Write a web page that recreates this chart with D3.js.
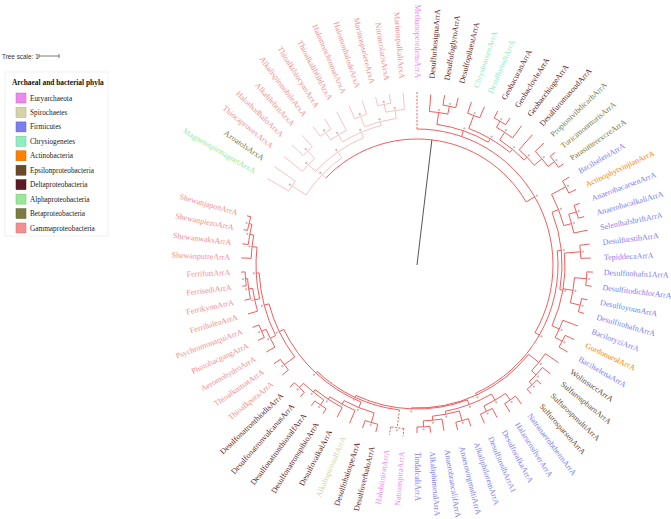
<!DOCTYPE html>
<html><head><meta charset="utf-8">
<script src="https://cdn.jsdelivr.net/npm/d3@7"></script>
<style>body{margin:0;background:#fff}svg{display:block}</style>
</head><body><svg id="c" width="671" height="519"></svg>
<script>
// ---- data ----
const leafNames = ["MethanoperedensArrA","DesulfurhosignaArrA","DesulfofuglyroArrA","DesulfopilaestArrA","ChrysinarsenArrA","DesulfurindiArrA","GeobacuranArrA","GeobaclovleArrA","GeobacchiogeArrA","DesulfuromusoudArrA","PropionivibdicarbArrA","TuricimonmurisArrA","ParasutterexcreArrA","BacilseleniArrA","ActinophytxinjianArrA","AnaerobacarsenArrA","AnaerobacalkaliArrA","SelenihalshriftArrA","DesulfurstibArrA","TepiddecaArrA","Desulfitohafn1ArrA","DesulfitodichlorArrA","DesulfoyounArrA","DesulfitohafnArrA","BaciloryziArrA","GordonurolArrA","BacilselenaArrA","WolinsuccArrA","SulfurospbarnArrA","SulfurospmultiArrA","SulfurosparsenArrA","NatranaerobthermArrA","HalarsensilverArrA","DesulforalkaArrA","DesulfitosibArrA1","AlkaliphiloremArrA","AnaerovirgmultiArrA","AnaerobrancalifArrA","AlkaliphimetalArrA","TindalcaliArrA","NatronspiraArrA","HalobiiniratArrA","DesulfoverhaloArrA","DesulfohalospeArrA","AlkalispirosulfArrA","DesulfovalkalArrA","DesulfonatronspibioArrA","DesulfonatronthiosulfArrA","DesulfonatronvulcanusArrA","DesulfonatronthiodisArrA","ThioalkparaArrA","ThioalknitratArrA","AeromohydroArrA","PhotobacgangArrA","PsychromonaquiArrA","FerrihaleaArrA","FerrikyonArrA","FerrisediArrA","FerrifuttArrA","ShewanputreArrA","ShewanwaksArrA","ShewanpiezoArrA","ShewanjaponArrA","MagnetospirmagnetArxA","AzoatolsArxA","ThiocaprovexArxA","HalorhodhaloArxA","AlkalilebritArxA","AlkalispirmobileArxA","ThioalkthiocyanArxA","ThioalkalibfildArxA","HalomonchromatArxA","HalomonhalodeArxA","MarinospselereArxA","NitrincolarisArxA","MarinospalkaliArxA"];
const leafPhyla = ["Euryarchaeota","Deltaproteobacteria","Deltaproteobacteria","Deltaproteobacteria","Chrysiogenetes","Chrysiogenetes","Deltaproteobacteria","Deltaproteobacteria","Deltaproteobacteria","Deltaproteobacteria","Betaproteobacteria","Betaproteobacteria","Betaproteobacteria","Firmicutes","Actinobacteria","Firmicutes","Firmicutes","Firmicutes","Firmicutes","Firmicutes","Firmicutes","Firmicutes","Firmicutes","Firmicutes","Firmicutes","Actinobacteria","Firmicutes","Epsilonproteobacteria","Epsilonproteobacteria","Epsilonproteobacteria","Epsilonproteobacteria","Firmicutes","Firmicutes","Firmicutes","Firmicutes","Firmicutes","Firmicutes","Firmicutes","Firmicutes","Firmicutes","Euryarchaeota","Euryarchaeota","Deltaproteobacteria","Deltaproteobacteria","Spirochaetes","Deltaproteobacteria","Deltaproteobacteria","Deltaproteobacteria","Deltaproteobacteria","Deltaproteobacteria","Gammaproteobacteria","Gammaproteobacteria","Gammaproteobacteria","Gammaproteobacteria","Gammaproteobacteria","Gammaproteobacteria","Gammaproteobacteria","Gammaproteobacteria","Gammaproteobacteria","Gammaproteobacteria","Gammaproteobacteria","Gammaproteobacteria","Gammaproteobacteria","Alphaproteobacteria","Betaproteobacteria","Gammaproteobacteria","Gammaproteobacteria","Gammaproteobacteria","Gammaproteobacteria","Gammaproteobacteria","Gammaproteobacteria","Gammaproteobacteria","Gammaproteobacteria","Gammaproteobacteria","Gammaproteobacteria","Gammaproteobacteria"];
const phyla = ["Euryarchaeota","Spirochaetes","Firmicutes","Chrysiogenetes","Actinobacteria","Epsilonproteobacteria","Deltaproteobacteria","Alphaproteobacteria","Betaproteobacteria","Gammaproteobacteria"];
const phylaColors = ["#ee88ee","#d6d3a6","#7d7df2","#8eeec0","#ff8000","#6b4a2c","#5e1a22","#98e898","#7c7c42","#f29090"];
const legendTitle = "Archaeal and bacterial phyla";
const treeScaleUnits = 1;
// topology (tree order) with branch lengths in tree units
const newickAX = "((MagnetospirmagnetArxA:1.25,AzoatolsArxA:1.25):0.85,((ThiocaprovexArxA:1.2,(HalorhodhaloArxA:0.75,AlkalilebritArxA:0.75):0.5):0.5,(((AlkalispirmobileArxA:0.6,ThioalkthiocyanArxA:0.6):0.45,ThioalkalibfildArxA:1.05):0.4,((HalomonchromatArxA:0.7,HalomonhalodeArxA:0.7):0.55,((MarinospselereArxA:0.45,NitrincolarisArxA:0.45):0.4,MarinospalkaliArxA:0.85):0.4):0.2):0.3):0.35):0.25";
const newickCA = "((DesulfurhosignaArrA:0.85,(DesulfofuglyroArrA:0.5,DesulfopilaestArrA:0.5):0.4):0.6,((ChrysinarsenArrA:0.6,DesulfurindiArrA:0.6):0.7,(((GeobacuranArrA:0.4,GeobaclovleArrA:0.4):0.35,GeobacchiogeArrA:0.75):0.45,(DesulfuromusoudArrA:1.0,(PropionivibdicarbArrA:0.6,(TuricimonmurisArrA:0.3,ParasutterexcreArrA:0.3):0.4):0.5):0.2):0.2):0.2):0.3";
const newickDB = "((DesulfoverhaloArrA:0.4,DesulfohalospeArrA:0.4):0.5,(AlkalispirosulfArrA:0.7,(DesulfovalkalArrA:0.55,((DesulfonatronspibioArrA:0.3,DesulfonatronthiosulfArrA:0.3):0.3,(DesulfonatronvulcanusArrA:0.3,DesulfonatronthiodisArrA:0.3):0.3):0.15):0.15):0.2):0.3";
const newickG = "((ThioalkparaArrA:0.4,ThioalknitratArrA:0.4):0.65,((AeromohydroArrA:0.5,(PhotobacgangArrA:0.35,PsychromonaquiArrA:0.35):0.25):0.3,((FerrihaleaArrA:0.5,(FerrikyonArrA:0.3,(FerrisediArrA:0.2,FerrifuttArrA:0.2):0.1):0.2):0.25,(ShewanputreArrA:0.5,(ShewanwaksArrA:0.3,(ShewanpiezoArrA:0.2,ShewanjaponArrA:0.2):0.15):0.2):0.25):0.15):0.25):0.25";
const newickCB = "((((BacilseleniArrA:0.4,ActinophytxinjianArrA:0.4):0.8,((AnaerobacarsenArrA:0.3,AnaerobacalkaliArrA:0.3):0.4,SelenihalshriftArrA:0.7):0.4):0.35,((DesulfurstibArrA:0.5,TepiddecaArrA:0.5):0.8,((Desulfitohafn1ArrA:0.3,DesulfitodichlorArrA:0.3):0.6,(DesulfoyounArrA:0.3,DesulfitohafnArrA:0.3):0.5):0.5,(BaciloryziArrA:0.8,(GordonurolArrA:0.5,BacilselenaArrA:0.5):0.4):0.4):0.15):0.2,((WolinsuccArrA:0.8,(SulfurospbarnArrA:0.5,(SulfurospmultiArrA:0.3,SulfurosparsenArrA:0.3):0.2):0.3):0.65,((((NatranaerobthermArrA:0.5,HalarsensilverArrA:0.5):0.4,(DesulforalkaArrA:0.5,DesulfitosibArrA1:0.5):0.3):0.35,((AlkaliphiloremArrA:0.4,AnaerovirgmultiArrA:0.4):0.5,(AnaerobrancalifArrA:0.6,(AlkaliphimetalArrA:0.3,TindalcaliArrA:0.3):0.3):0.2):0.15):0.25,((NatronspiraArrA:0.4,HalobiiniratArrA:0.4):0.9,(" + newickDB + "," + newickG + "):0.1):0.1):0.05):0.1):0.25";
const newick = "((" + newickAX + ",(MethanoperedensArrA:1.9," + newickCA + "," + newickCB + "):0.5):6.3);";

// ---- parse ----
function parseNewick(s){
  let i=0;
  function node(){
    const n={};
    if(s[i]==='('){ n.children=[]; i++; n.children.push(node());
      while(s[i]===','){i++; n.children.push(node());} i++; }
    let name=''; while(i<s.length && !',():;'.includes(s[i])) name+=s[i++];
    n.name=name; n.length=0;
    if(s[i]===':'){ i++; let num=''; while(i<s.length && !',();'.includes(s[i])) num+=s[i++]; n.length=+num; }
    return n;
  }
  return node();
}

const W=671,H=519, cx=417, cy=265, labelR=187;
const svg=d3.select("#c");
const font="'Liberation Serif', 'Times New Roman', serif";
const color=d3.scaleOrdinal().domain(phyla).range(phylaColors);
const rScale=d3.scaleLinear().domain([0,1]).range([0,20]);
const nSlots=78;
const angScale=d3.scaleLinear().domain([0,nSlots]).range([0,2*Math.PI]);
const gapStart=63, nLeaves=leafNames.length;
function slotOf(i){ return i<gapStart ? i : i-nLeaves; }

const root=d3.hierarchy(parseNewick(newick));
root.eachBefore(d=>{ d.dist=(d.parent?d.parent.dist:0)+(d.data.length||0); });
root.eachAfter(d=>{
  if(!d.children){ const idx=leafNames.indexOf(d.data.name); d.idx=idx; d.a=angScale(slotOf(idx)); }
  else { d.a=(d.children[0].a+d.children[d.children.length-1].a)/2; }
  d.r=rScale(d.dist);
  const leaves=d.leaves();
  d.arx=leaves.every(l=>l.data.name.endsWith("ArxA"));
  d.arch=leaves.every(l=>leafPhyla[leafNames.indexOf(l.data.name)]==="Euryarchaeota");
});

const g=svg.append("g").attr("transform",`translate(${cx},${cy})`);
const pt=(a,r)=>[r*Math.sin(a),-r*Math.cos(a)];
const RED="#f24a4a", PALE="#f5bcbc";
function stroke(d){ return d.depth===1 ? "#555" : (d.arx ? PALE : RED); }

// arcs
root.descendants().filter(d=>d.children && d.children.length>1).forEach(d=>{
  const a0=d3.min(d.children,c=>c.a), a1=d3.max(d.children,c=>c.a);
  const p=d3.path(); p.arc(0,0,d.r,a0-Math.PI/2,a1-Math.PI/2,false);
  g.append("path").attr("d",p.toString()).attr("fill","none")
   .attr("stroke",d.arx?PALE:RED).attr("stroke-width",0.9)
   .attr("stroke-dasharray",d.arch?"2,1.5":null);
});
// radial branches
root.descendants().filter(d=>d.parent).forEach(d=>{
  const [x0,y0]=pt(d.a,d.parent.r), [x1,y1]=pt(d.a,d.r);
  g.append("line").attr("x1",x0).attr("y1",y0).attr("x2",x1).attr("y2",y1)
   .attr("stroke",stroke(d)).attr("stroke-width",d.depth===1?1:0.9)
   .attr("stroke-dasharray",d.arch?"2,1.5":null);
});
// node markers
root.descendants().filter(d=>d.children && d.depth>1).forEach(d=>{
  const [x,y]=pt(d.a,d.r+2.5);
  g.append("circle").attr("cx",x).attr("cy",y).attr("r",0.9).attr("fill","#c8c8c8").attr("stroke","#999").attr("stroke-width",0.3);
});
// labels
root.leaves().forEach(d=>{
  let deg=d.a*180/Math.PI;
  const right = deg>0 && deg<=180;
  const t=g.append("text").text(d.data.name)
    .attr("font-family",font).attr("font-size",8)
    .attr("fill",color(leafPhyla[d.idx]))
    .attr("dominant-baseline","central");
  if(right){ t.attr("text-anchor","start").attr("transform",`rotate(${deg-90}) translate(${labelR},0)`); }
  else { t.attr("text-anchor","end").attr("transform",`rotate(${deg-90}) translate(${labelR},0) rotate(180)`); }
});

// tree scale
const sx=d3.scaleLinear().domain([0,treeScaleUnits]).range([39,59]);
svg.append("text").attr("x",2).attr("y",58.5).text("Tree scale: "+treeScaleUnits)
  .attr("font-family","'Liberation Sans',Arial,sans-serif").attr("font-size",6.4).attr("fill","#333");
svg.append("line").attr("x1",sx(0)).attr("x2",sx(treeScaleUnits)).attr("y1",56).attr("y2",56).attr("stroke","#555").attr("stroke-width",0.8);
[0,treeScaleUnits].forEach(v=>svg.append("line").attr("x1",sx(v)).attr("x2",sx(v)).attr("y1",54).attr("y2",58).attr("stroke","#555").attr("stroke-width",0.8));

// legend
const lg=svg.append("g");
lg.append("rect").attr("x",5).attr("y",72).attr("width",103).attr("height",164).attr("fill","#fff").attr("stroke","#eee").attr("stroke-width",0.8);
lg.append("text").attr("x",12).attr("y",85).text(legendTitle).attr("font-family",font).attr("font-weight","bold").attr("font-size",7.4).attr("fill","#111");
const ly=d3.scaleLinear().domain([0,9]).range([98,228]);
phyla.forEach((p,i)=>{
  lg.append("rect").attr("x",16).attr("y",ly(i)-5).attr("width",10).attr("height",10).attr("fill",color(p)).attr("stroke",d3.color(color(p)).darker(0.6)).attr("stroke-width",0.5);
  lg.append("text").attr("x",30).attr("y",ly(i)).attr("dominant-baseline","central").text(p).attr("font-family",font).attr("font-size",7.3).attr("fill","#222");
});
</script></body></html>
